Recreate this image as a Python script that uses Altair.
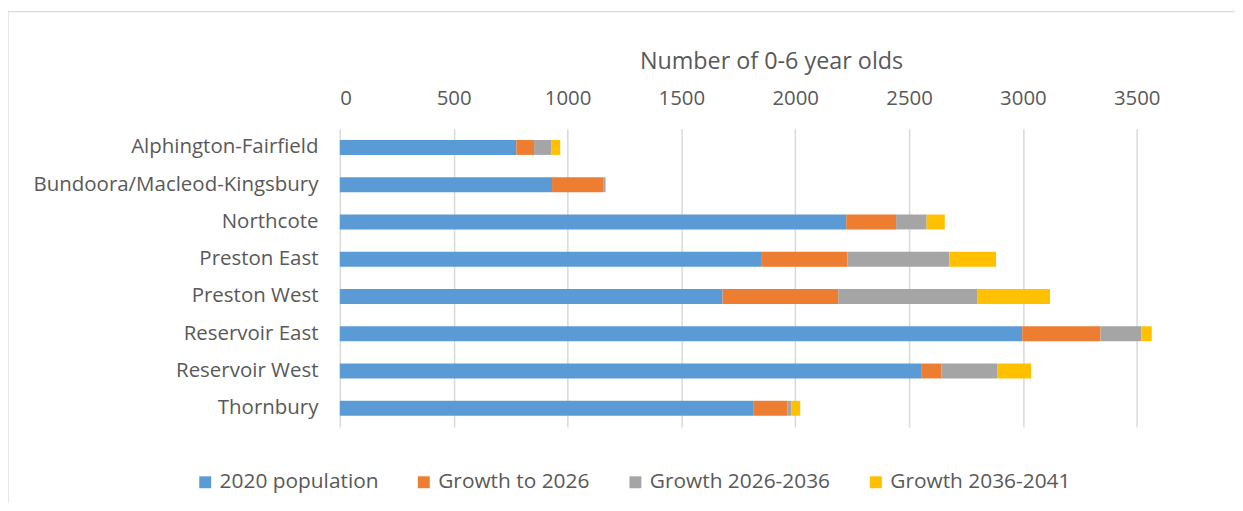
import altair as alt
import pandas as pd

areas = ["Alphington-Fairfield", "Bundoora/Macleod-Kingsbury", "Northcote",
         "Preston East", "Preston West", "Reservoir East", "Reservoir West", "Thornbury"]
series = ["2020 population", "Growth to 2026", "Growth 2026-2036", "Growth 2036-2041"]
pop_2020 = [775, 932, 2224, 1850, 1681, 2997, 2556, 1818]
growth_2026 = [78, 227, 219, 379, 508, 344, 87, 147]
growth_2036 = [77, 8, 134, 448, 610, 180, 244, 19]
growth_2041 = [38, 0, 80, 205, 320, 45, 149, 38]
colors = ["#5B9BD5", "#ED7D31", "#A5A5A5", "#FFC000"]
ticks = [0, 500, 1000, 1500, 2000, 2500, 3000, 3500]

rows = []
for i, a in enumerate(areas):
    for j, vals in enumerate([pop_2020, growth_2026, growth_2036, growth_2041]):
        rows.append({"area": a, "series": series[j], "order": j, "value": vals[i]})
df = pd.DataFrame(rows)

FONT = "Open Sans"
TXT = "#595959"

bars = alt.Chart(df).mark_bar().encode(
    y=alt.Y("area:N", sort=areas,
            scale=alt.Scale(paddingInner=0.6, paddingOuter=0.3),
            axis=alt.Axis(title=None, ticks=False, domain=False, labelPadding=22,
                          labelFontSize=20.6, labelColor=TXT, labelFont=FONT,
                          labelLimit=400)),
    x=alt.X("sum(value):Q", stack="zero",
            scale=alt.Scale(domain=[0, 3600], nice=False),
            axis=alt.Axis(orient="top", values=ticks, format="d",
                          title="Number of 0-6 year olds",
                          titleFontSize=23.5, titleFont=FONT, titleColor=TXT,
                          titleFontWeight="normal", titlePadding=16,
                          titleX=434, titleAlign="center",
                          labelFontSize=20.5, labelFont=FONT, labelColor=TXT,
                          labelPadding=20, ticks=False, domain=False,
                          grid=True, gridColor="#D9D9D9", gridWidth=1.5,
                          labelOverlap=False)),
    color=alt.Color("series:N", sort=series,
                    scale=alt.Scale(domain=series, range=colors),
                    legend=alt.Legend(title=None, orient="none", legendX=-146, legendY=345,
                                      padding=0,
                                      direction="horizontal", symbolType="square",
                                      symbolSize=144, symbolStrokeWidth=0,
                                      labelFontSize=21, labelFont=FONT, labelColor=TXT,
                                      labelLimit=400, labelOffset=4, columnPadding=35)),
    order=alt.Order("order:Q"),
)

frame = alt.Chart(pd.DataFrame({"a": [0]})).mark_rect(
    fill="transparent", stroke="#D9D9D9", strokeWidth=1.2
).encode(x=alt.value(-334), x2=alt.value(1200), y=alt.value(-118), y2=alt.value(600))

chart = alt.layer(frame, bars).properties(
    width=825, height=300,
    autosize=alt.AutoSizeParams(type="none"),
    padding={"left": 334, "top": 120, "right": 76, "bottom": 75},
    background="white",
).configure_view(stroke=None)

chart.save("out.html", embed_options={"renderer": "svg", "actions": False})
